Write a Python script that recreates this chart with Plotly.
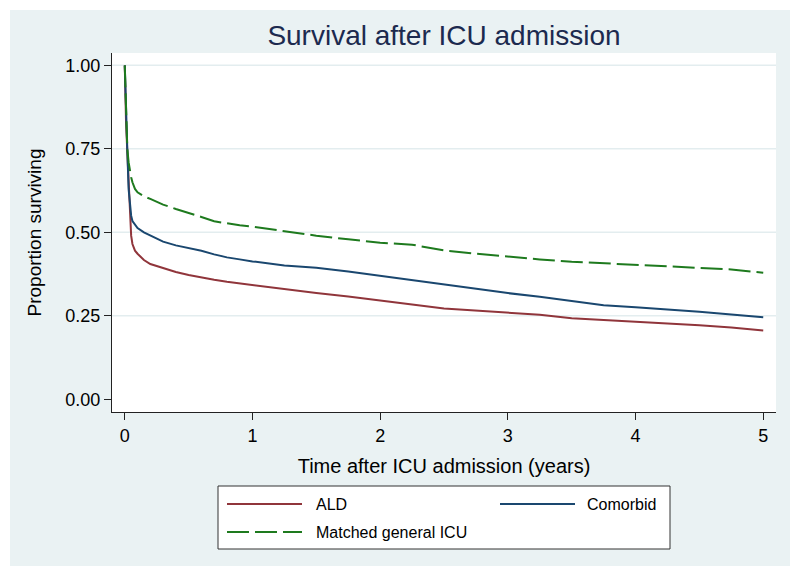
import plotly.graph_objects as go

# ---- data ----
time_years = [0, 0.005, 0.01, 0.02, 0.03, 0.04, 0.05, 0.06, 0.08, 0.1, 0.15, 0.2, 0.3, 0.4,
              0.5, 0.6, 0.7, 0.8, 0.9, 1.0, 1.25, 1.5, 1.75, 2.0, 2.25, 2.5, 2.75, 3.0,
              3.25, 3.5, 3.75, 4.0, 4.25, 4.5, 4.75, 5.0]
surv_ald = [1.0, 0.90, 0.83, 0.74, 0.655, 0.545, 0.49, 0.465, 0.445, 0.436, 0.417, 0.405,
            0.392, 0.381, 0.372, 0.364, 0.358, 0.352, 0.347, 0.341, 0.330, 0.318, 0.308,
            0.295, 0.284, 0.272, 0.265, 0.258, 0.253, 0.243, 0.238, 0.232, 0.227, 0.222,
            0.215, 0.206]
surv_comorbid = [1.0, 0.92, 0.85, 0.745, 0.63, 0.575, 0.55, 0.534, 0.522, 0.513, 0.500, 0.490,
                 0.472, 0.461, 0.453, 0.445, 0.434, 0.425, 0.419, 0.413, 0.401, 0.394, 0.383,
                 0.370, 0.357, 0.342, 0.330, 0.318, 0.307, 0.295, 0.282, 0.276, 0.270, 0.262,
                 0.254, 0.246]
surv_matched = [1.0, 0.93, 0.87, 0.75, 0.71, 0.684, 0.665, 0.650, 0.630, 0.620, 0.608, 0.600,
                0.583, 0.570, 0.559, 0.546, 0.533, 0.526, 0.521, 0.517, 0.503, 0.490, 0.479,
                0.469, 0.463, 0.446, 0.436, 0.427, 0.419, 0.412, 0.407, 0.404, 0.399, 0.394,
                0.389, 0.379]
series_names = ["ALD", "Comorbid", "Matched general ICU"]
x_ticks = [0, 1, 2, 3, 4, 5]
y_ticks = [0.0, 0.25, 0.5, 0.75, 1.0]
y_tick_labels = ["0.00", "0.25", "0.50", "0.75", "1.00"]
grid_vals = [0.25, 0.5, 0.75, 1.0]

# ---- styling ----
W, H = 800, 576
OFF = 8  # page body margin offset
ML, MR, MT, MB = 112 - OFF, 24 + OFF, 53 - OFF, 164 + OFF
PW, PH = W - ML - MR, H - MT - MB
FONT = "Arial, Liberation Sans, sans-serif"
C_ALD, C_COM, C_MAT = "#90353B", "#1A476F", "#1E7A1E"
BG = "#EAF2F3"
DASH = "22px,6px"


def px_x(p):
    # screen pixel -> paper coordinate
    return (p - OFF - ML) / PW


def px_y(p):
    return (H - MB - (p - OFF)) / PH


fig = go.Figure()
fig.add_trace(go.Scatter(x=time_years, y=surv_ald, mode="lines", name=series_names[0],
                         line=dict(color=C_ALD, width=2)))
fig.add_trace(go.Scatter(x=time_years, y=surv_comorbid, mode="lines", name=series_names[1],
                         line=dict(color=C_COM, width=2)))
fig.add_trace(go.Scatter(x=time_years, y=surv_matched, mode="lines", name=series_names[2],
                         line=dict(color=C_MAT, width=2, dash=DASH)))

shapes = [
    # graph region background
    dict(type="rect", xref="paper", yref="paper", x0=px_x(10), x1=px_x(790),
         y0=px_y(566), y1=px_y(10), fillcolor=BG, line=dict(width=0), layer="below"),
    # plot region
    dict(type="rect", xref="paper", yref="paper", x0=0, x1=1, y0=0, y1=1,
         fillcolor="white", line=dict(width=0), layer="below"),
]
for g in grid_vals:
    shapes.append(dict(type="line", xref="paper", yref="y", x0=0, x1=1, y0=g, y1=g,
                       line=dict(color="#E3EDEF", width=1.5), layer="below"))

# legend box (Stata style)
shapes.append(dict(type="rect", xref="paper", yref="paper", x0=px_x(218), x1=px_x(670),
                   y0=px_y(549), y1=px_y(486), fillcolor="white",
                   line=dict(color="#333333", width=1)))
legend_keys = [(227, 302, 504, C_ALD, "solid"), (500, 575, 504, C_COM, "solid"),
               (227, 302, 532, C_MAT, DASH)]
for x0, x1, yy, col, dsh in legend_keys:
    shapes.append(dict(type="line", xref="paper", yref="paper", x0=px_x(x0), x1=px_x(x1),
                       y0=px_y(yy), y1=px_y(yy), line=dict(color=col, width=1.8, dash=dsh)))

annotations = [
    dict(text=series_names[0], xref="paper", yref="paper", x=px_x(314), y=px_y(504),
         xanchor="left", yanchor="middle", showarrow=False, font=dict(size=16, color="black", family=FONT)),
    dict(text=series_names[1], xref="paper", yref="paper", x=px_x(658), y=px_y(504),
         xanchor="right", yanchor="middle", showarrow=False, font=dict(size=16, color="black", family=FONT)),
    dict(text=series_names[2], xref="paper", yref="paper", x=px_x(314), y=px_y(532),
         xanchor="left", yanchor="middle", showarrow=False, font=dict(size=16, color="black", family=FONT)),
]

fig.update_layout(
    width=W, height=H,
    margin=dict(l=ML, r=MR, t=MT, b=MB, pad=0),
    paper_bgcolor="white", plot_bgcolor="white",
    showlegend=False,
    font=dict(family=FONT, color="black"),
    title=dict(text="Survival after ICU admission", x=0.5, xref="paper", xanchor="center",
               y=1 - (35 - OFF) / H, yref="container", yanchor="middle",
               font=dict(size=28, color="#1C2A4F", family=FONT)),
    xaxis=dict(range=[-0.1, 5.1], tickvals=x_ticks, ticks="outside", ticklen=7, tickwidth=1,
               tickcolor="#222", showline=True, linecolor="#222", linewidth=1, showgrid=False,
               zeroline=False, tickfont=dict(size=18), automargin=False,
               title=dict(text="Time after ICU admission (years)", font=dict(size=20), standoff=14)),
    yaxis=dict(range=[-0.038, 1.037], tickvals=y_ticks, ticktext=y_tick_labels, ticks="outside",
               ticklen=7, tickwidth=1, tickcolor="#222", showline=True, linecolor="#222",
               linewidth=1, showgrid=False, zeroline=False, tickfont=dict(size=18),
               automargin=False,
               title=dict(text="Proportion surviving", font=dict(size=19), standoff=18)),
    shapes=shapes,
    annotations=annotations,
)

fig.write_html("out.html")
